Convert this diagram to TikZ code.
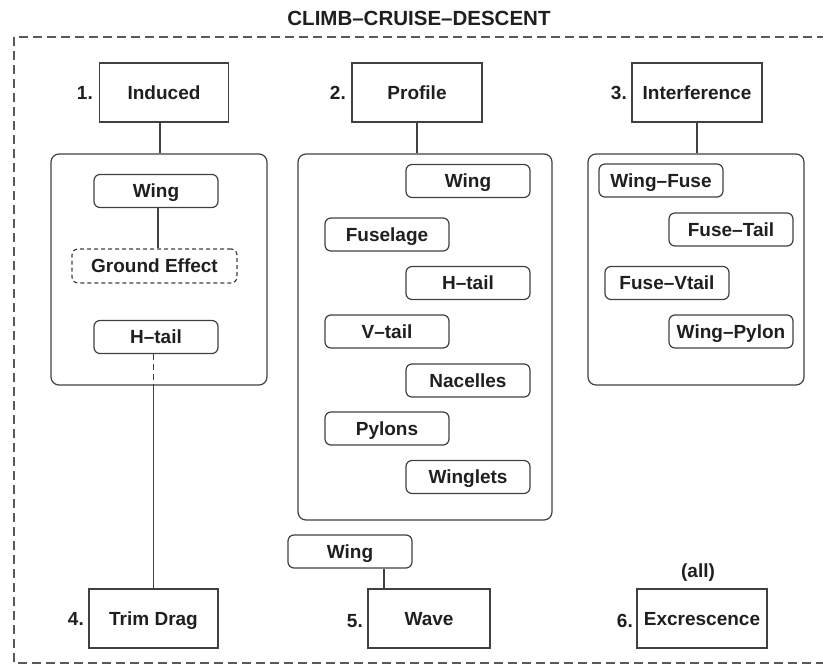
\documentclass[tikz,border=0pt]{standalone}
\usepackage{fontspec}
\setmainfont{Liberation Sans}
\begin{document}
\begin{tikzpicture}[x=1pt,y=-1pt,
  every node/.style={font=\fontsize{19}{22}\selectfont\bfseries, text=black!88},
  capcentre/.style={text height=13.6pt, text depth=0pt},
  mainbox/.style={draw=black!75, line width=1.4pt, minimum width=129pt, minimum height=59pt, inner sep=0pt, capcentre},
  panel/.style={draw=black!75, line width=1.2pt, rounded corners=8pt, inner sep=0pt},
  item/.style={draw=black!75, line width=1.2pt, rounded corners=6pt, minimum width=124pt, minimum height=33pt, inner sep=0pt, capcentre},
  link/.style={draw=black!75, line width=1.2pt},
  numlabel/.style={anchor=east, inner sep=0pt, capcentre}
]
\useasboundingbox (0,0) rectangle (823,664);
\begin{scope}
\clip (0,0) rectangle (823,664);
\draw[black!65, line width=1.1pt, dash pattern=on 9pt off 5pt] (14,37) rectangle (830,663);
\end{scope}

% title
\node[font=\fontsize{20.5}{24}\selectfont\bfseries] (title) at (419,18) {CLIMB–CRUISE–DESCENT};

% top-level drag categories
\node[mainbox, minimum width=129pt] (ind) at (164,92.5) {Induced};
\node[mainbox, minimum width=130pt] (prof) at (417,92.5) {Profile};
\node[mainbox, minimum width=130pt] (intf) at (697,92.5) {Interference};
\node[numlabel] (n1) at (93,93) {1.};
\node[numlabel] (n2) at (346,93) {2.};
\node[numlabel] (n3) at (627,93) {3.};

% component panels
\node[panel, minimum width=216pt, minimum height=231pt] (indp) at (159,269.5) {};
\node[panel, minimum width=254pt, minimum height=366pt] (profp) at (425,337) {};
\node[panel, minimum width=216pt, minimum height=231pt] (intfp) at (696,269.5) {};

\draw[link] ([xshift=-4pt]ind.south) -- ([xshift=-4pt]ind.south |- indp.north);
\draw[link] (prof.south) -- (prof.south |- profp.north);
\draw[link] (intf.south) -- (intf.south |- intfp.north);

% induced components
\node[item] (iwing) at (156,191) {Wing};
\node[item, dashed, dash pattern=on 4pt off 3pt, minimum width=165pt, minimum height=34pt] (gnd) at (154.5,266) {Ground Effect};
\node[item] (ihtail) at (156,337) {H–tail};
\draw[link] ([xshift=2pt]iwing.south) -- ([xshift=2pt]iwing.south |- gnd.north);

% profile components
\node[item] (pwing) at (468,181) {Wing};
\node[item] (pfuse) at (387,234.5) {Fuselage};
\node[item] (phtail) at (468,283) {H–tail};
\node[item] (pvtail) at (387,331.5) {V–tail};
\node[item] (pnac) at (468,380.5) {Nacelles};
\node[item] (ppyl) at (387,428.5) {Pylons};
\node[item] (pwlet) at (468,477) {Winglets};

% interference components
\node[item] (wf) at (661,180.5) {Wing–Fuse};
\node[item] (ft) at (731,229.5) {Fuse–Tail};
\node[item] (fv) at (667,283) {Fuse–Vtail};
\node[item] (wp) at (731,331.5) {Wing–Pylon};

% bottom row
\node[mainbox, minimum width=129pt] (trim) at (153.5,618.5) {Trim Drag};
\node[mainbox, minimum width=122pt] (wave) at (429,618.5) {Wave};
\node[mainbox, minimum width=130pt] (exc) at (702,618.5) {Excrescence};
\node[numlabel] (n4) at (84,619) {4.};
\node[numlabel] (n5) at (363,621) {5.};
\node[numlabel] (n6) at (633,621) {6.};
\node (all) at (698,573) {(all)};

\node[item] (wwing) at (350,551.5) {Wing};
\draw[link] ([xshift=34pt]wwing.south) -- ([xshift=34pt]wwing.south |- wave.north);

% H-tail to trim drag
\coordinate (pbot) at (trim.north |- indp.south);
\draw[link, dash pattern=on 6pt off 4pt] (trim.north |- ihtail.south) -- (pbot);
\draw[link] (pbot) -- (trim.north);
\end{tikzpicture}
\end{document}
